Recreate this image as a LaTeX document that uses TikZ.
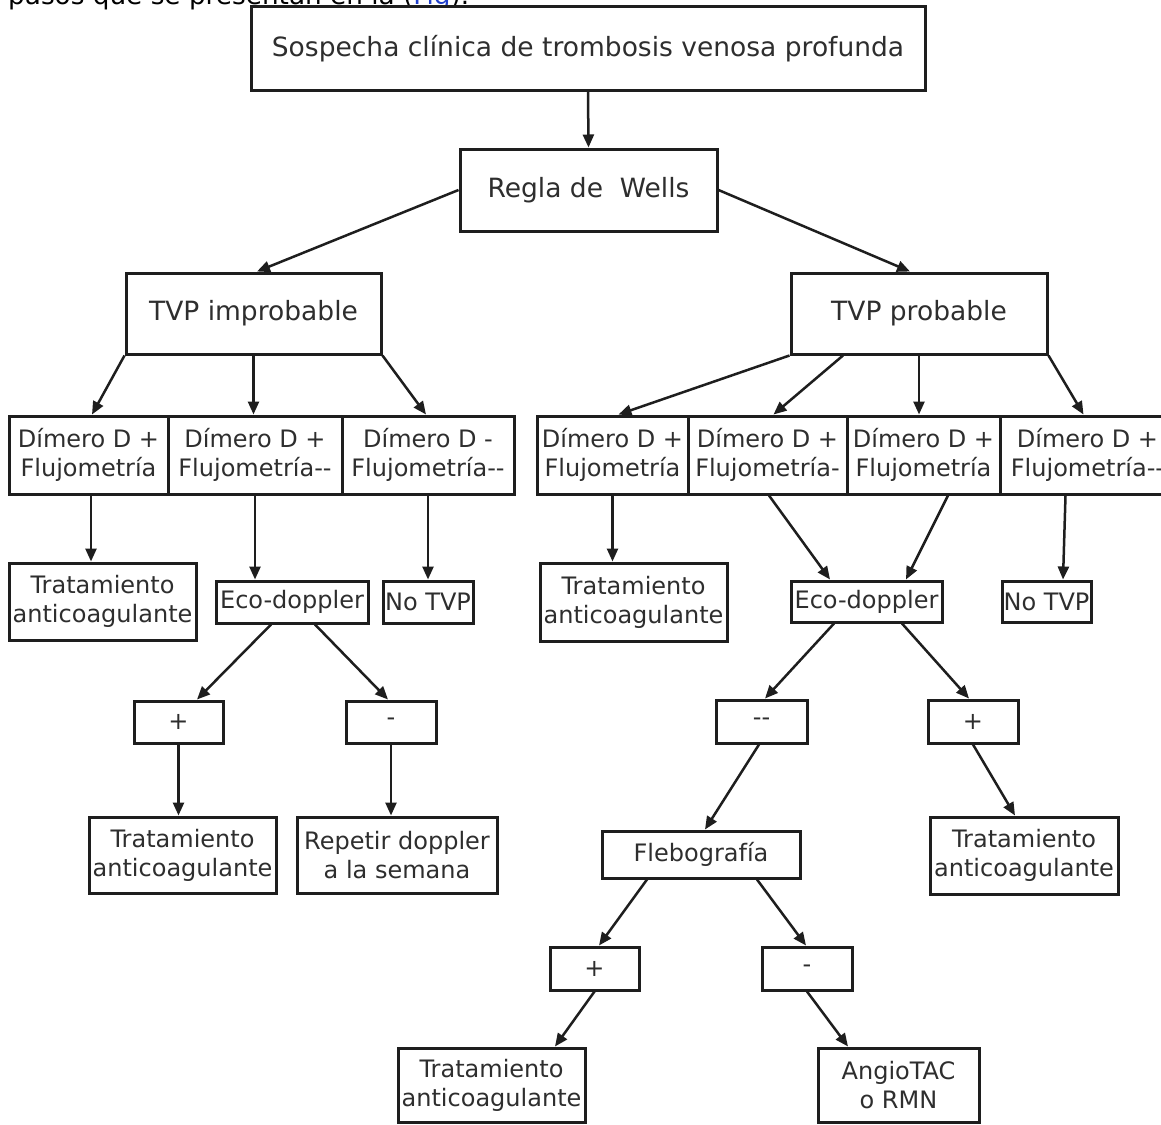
\documentclass[tikz,border=0pt]{standalone}
\usepackage{fontspec}
\setmainfont{DejaVu Sans}[Ligatures=TeXOff]
\usetikzlibrary{arrows.meta}
\definecolor{ink}{HTML}{1E1E1E}
\definecolor{txt}{HTML}{2E2E2E}
\definecolor{linkblue}{HTML}{1F3FCC}
\begin{document}
\begin{tikzpicture}[x=1pt,y=-1pt,
  box/.style={draw=ink, line width=3pt, fill=white, inner sep=0pt, align=center, text=txt,
    font=\fontsize{24}{29}\selectfont},
  big/.style={box, font=\fontsize{26.5}{32}\selectfont},
  arr/.style={draw=ink, line width=2.5pt, -{Triangle[length=13pt,width=11pt]}},
]
\fill[white] (0,0) rectangle (1161,1124);
\useasboundingbox (0,0) rectangle (1161,1124);

% clipped caption line at the very top
\node[anchor=base west, inner sep=0pt, text=black, font=\fontsize{26.3}{32}\selectfont] (cap) at (8,5)
  {pasos que se presentan en la (\textcolor{linkblue}{\rlap{\rule[-2.5pt]{1.49em}{1.3pt}}Fig}).};

% level 1-2
\node[big, minimum width=674pt, minimum height=83pt] (top) at (588,48.5) {Sospecha clínica de trombosis venosa profunda};
\node[big, minimum width=257pt, minimum height=82pt] (regla) at (588.5,190) {Regla de\ \ Wells};
\node[big, minimum width=255pt, minimum height=81pt] (timp) at (253.5,313.5) {TVP improbable};
\node[big, minimum width=256pt, minimum height=81pt] (tprob) at (919,313.5) {TVP probable};

% Dimero row
\node[box, minimum width=159pt, minimum height=78pt] (d1) at (88.5,455) {Dímero D +\\Flujometría};
\node[box, minimum width=174pt, minimum height=78pt] (d2) at (255,455) {Dímero D +\\Flujometría--};
\node[box, minimum width=172pt, minimum height=78pt] (d3) at (428,455) {Dímero D -\\Flujometría--};
\node[box, minimum width=151pt, minimum height=78pt] (d4) at (612.5,455) {Dímero D +\\Flujometría};
\node[box, minimum width=159pt, minimum height=78pt] (d5) at (767.5,455) {Dímero D +\\Flujometría-};
\node[box, minimum width=153pt, minimum height=78pt] (d6) at (923.5,455) {Dímero D +\\Flujometría};
\node[box, minimum width=175pt, minimum height=78pt] (d7) at (1087.5,455) {Dímero D +\\Flujometría--};

% third row
\node[box, minimum width=187pt, minimum height=77pt] (t1) at (102.5,601.5) {Tratamiento\\anticoagulante};
\node[box, minimum width=152pt, minimum height=42pt] (e1) at (292,602) {Eco-doppler};
\node[box, minimum width=90pt, minimum height=42pt] (n1) at (428,602) {No TVP};
\node[box, minimum width=187pt, minimum height=78pt] (t2) at (633.5,602) {Tratamiento\\anticoagulante};
\node[box, minimum width=151pt, minimum height=41pt] (e2) at (866.5,601.5) {Eco-doppler};
\node[box, minimum width=89pt, minimum height=41pt] (n2) at (1046.5,601.5) {No TVP};

% fourth row
\node[box, minimum width=89pt, minimum height=42pt] (p1) at (178.5,722) {+};
\node[box, minimum width=90pt, minimum height=42pt] (m1) at (391,722) {-};
\node[box, minimum width=91pt, minimum height=43pt] (mm) at (761.5,721.5) {--};
\node[box, minimum width=90pt, minimum height=43pt] (p2) at (973,721.5) {+};

% fifth row
\node[box, minimum width=187pt, minimum height=76pt] (t3) at (182.5,855) {Tratamiento\\anticoagulante};
\node[box, minimum width=200pt, minimum height=76pt] (r1) at (397,855) {Repetir doppler\\a la semana};
\node[box, minimum width=198pt, minimum height=47pt] (fl) at (701,854.5) {Flebografía};
\node[box, minimum width=188pt, minimum height=77pt] (t4) at (1024,855.5) {Tratamiento\\anticoagulante};

% sixth row
\node[box, minimum width=89pt, minimum height=43pt] (p3) at (594.5,968.5) {+};
\node[box, minimum width=90pt, minimum height=43pt] (m3) at (807,968.5) {-};

% seventh row
\node[box, minimum width=187pt, minimum height=74pt] (t5) at (491.5,1085) {Tratamiento\\anticoagulante};
\node[box, minimum width=161pt, minimum height=74pt] (ang) at (898.5,1085) {AngioTAC\\o RMN};

% connectors
\draw[arr] (top.south) -- (regla.north);
\draw[arr] (regla.west) -- ([xshift=3.5pt]timp.north);
\draw[arr] (regla.east) -- ([xshift=-9pt]tprob.north);

\draw[arr] (timp.south west) -- ([xshift=3.5pt]d1.north);
\draw[arr] (timp.south) -- (timp.south |- d2.north);
\draw[arr] (timp.south east) -- ([xshift=-2pt]d3.north);

\draw[arr] (tprob.south west) -- ([xshift=6pt]d4.north);
\draw[arr] ([xshift=-76pt]tprob.south) -- ([xshift=6pt]d5.north);
\draw[arr] (tprob.south) -- (tprob.south |- d6.north);
\draw[arr] (tprob.south east) -- ([xshift=-4pt]d7.north);

\draw[arr] ([xshift=2.5pt]d1.south) -- ([xshift=-11.5pt]t1.north);
\draw[arr] (d2.south) -- ([xshift=-37pt]e1.north);
\draw[arr] (d3.south) -- (n1.north);
\draw[arr] (d4.south) -- ([xshift=-21pt]t2.north);
\draw[arr] ([xshift=1.5pt]d5.south) -- ([xshift=-36.5pt]e2.north);
\draw[arr] ([xshift=24.5pt]d6.south) -- ([xshift=39.5pt]e2.north);
\draw[arr] ([xshift=-22pt]d7.south) -- ([xshift=16.5pt]n2.north);

\draw[arr] ([xshift=-21pt]e1.south) -- ([xshift=18.5pt]p1.north);
\draw[arr] ([xshift=23pt]e1.south) -- ([xshift=-3pt]m1.north);
\draw[arr] (p1.south) -- (p1.south |- t3.north);
\draw[arr] (m1.south) -- (m1.south |- r1.north);

\draw[arr] ([xshift=-32.5pt]e2.south) -- ([xshift=3.5pt]mm.north);
\draw[arr] ([xshift=35.5pt]e2.south) -- ([xshift=-4pt]p2.north);
\draw[arr] ([xshift=-2.5pt]mm.south) -- ([xshift=4pt]fl.north);
\draw[arr] (p2.south) -- ([xshift=-9pt]t4.north);

\draw[arr] ([xshift=-54pt]fl.south) -- ([xshift=4.5pt]p3.north);
\draw[arr] ([xshift=56pt]fl.south) -- ([xshift=-1pt]m3.north);
\draw[arr] (p3.south) -- ([xshift=63.5pt]t5.north);
\draw[arr] (m3.south) -- ([xshift=-50.5pt]ang.north);
\end{tikzpicture}
\end{document}
